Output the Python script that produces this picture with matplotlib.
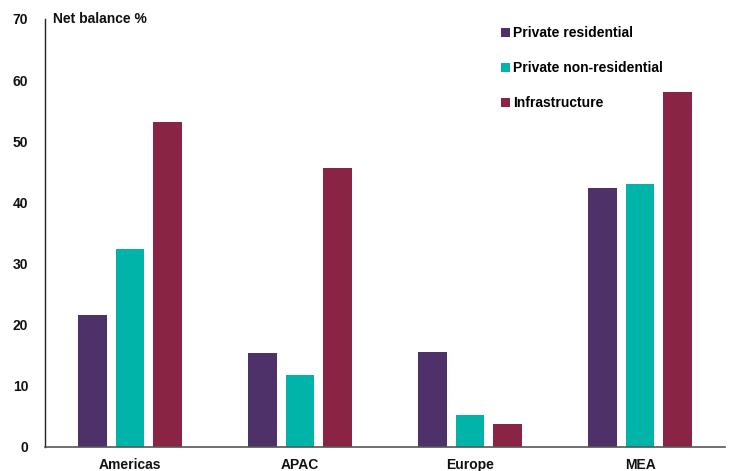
import matplotlib
matplotlib.use("Agg")
import matplotlib.pyplot as plt
from matplotlib.patches import Patch
import numpy as np

plt.rcParams['font.family'] = ['Liberation Sans', 'DejaVu Sans']
plt.rcParams['font.weight'] = 'bold'

regions = ["Americas", "APAC", "Europe", "MEA"]
series_names = ["Private residential", "Private non-residential", "Infrastructure"]
private_residential = [21.6, 15.4, 15.5, 42.3]
private_non_residential = [32.4, 11.8, 5.2, 43.0]
infrastructure = [53.2, 45.6, 3.8, 58.1]
y_ticks = [0, 10, 20, 30, 40, 50, 60, 70]

colors = ["#4E3169", "#00B4AA", "#8A2445"]
series = [private_residential, private_non_residential, infrastructure]

fig = plt.figure(figsize=(7.29, 4.71), dpi=100)
ax = fig.add_axes([45/729, 1 - 447/471, 680/729, 428/471])

x = np.arange(len(regions))
width = 0.17
step = 0.218
for i, (vals, col) in enumerate(zip(series, colors)):
    ax.bar(x + (i - 1) * step, vals, width=width, color=col, edgecolor='none')

ax.set_xlim(-0.5, len(regions) - 0.5)
ax.set_ylim(0, 70)
ax.set_yticks(y_ticks)
ax.set_xticks(x)
ax.set_xticklabels(regions, va='baseline')
ax.tick_params(axis='both', length=0, labelsize=10, colors='#111111')
ax.tick_params(axis='y', pad=12)
ax.tick_params(axis='x', pad=16)

for s in ['top', 'right']:
    ax.spines[s].set_visible(False)
ax.spines['left'].set_color('#222222')
ax.spines['bottom'].set_color('#555555')
ax.spines['left'].set_linewidth(1.0)
ax.spines['bottom'].set_linewidth(1.2)

ax.text(8/680, 1.0, "Net balance %", transform=ax.transAxes, fontsize=10,
        fontweight='bold', va='center', ha='left', color='#111111')

handles = [Patch(facecolor=c, edgecolor='none') for c in colors]
ax.legend(handles, series_names, loc='upper left', bbox_to_anchor=(0.663, 0.996),
          frameon=False, handlelength=0.62, handleheight=0.62,
          handletextpad=0.25, labelspacing=1.52, borderaxespad=0.0,
          prop={'weight': 'bold', 'size': 10})

fig.savefig("out.png", dpi=100)
